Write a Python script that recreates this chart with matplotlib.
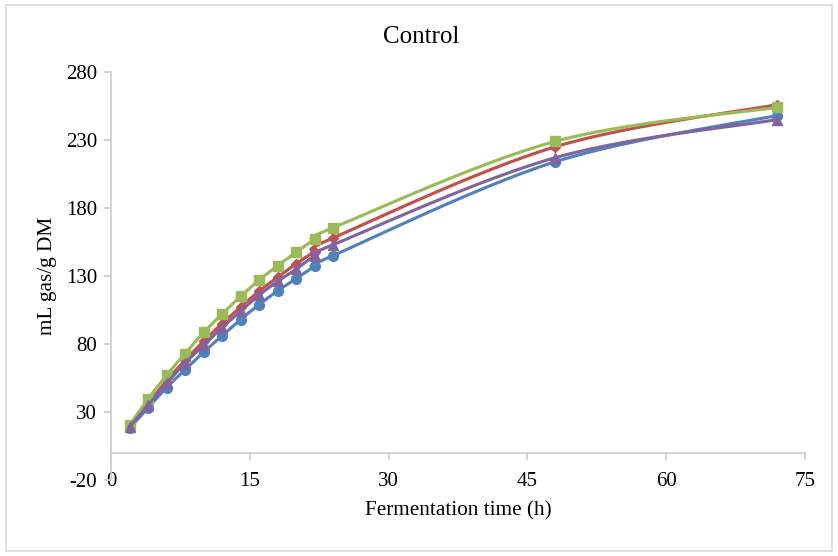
import numpy as np
import matplotlib.pyplot as plt
from matplotlib.patches import Rectangle

# fermentation times (h)
hours = [2, 4, 6, 8, 10, 12, 14, 16, 18, 20, 22, 24, 48, 72]

# gas production (mL gas/g DM)
blue = [18, 33, 48, 61, 74, 86, 98, 109, 119, 128, 137, 145, 214, 248]
red = [19.5, 36, 53, 68, 82, 95, 107, 119, 129, 139, 148, 158, 225, 256]
green = [20.5, 39.5, 57, 73, 88.5, 102, 115, 127, 137.5, 147.5, 157, 165.5, 229, 254]
purple = [19, 35, 51, 66, 79, 92, 104, 116, 126, 135, 145, 153, 217, 245]

series = [(blue, '#4F81BD', 'o', 7),
          (red, '#C0504D', 'D', 5.5),
          (green, '#9BBB59', 's', 7),
          (purple, '#8064A2', '^', 7.5)]


def smooth(x, y, n=30):
    # Excel-style smoothed line: cubic Bezier, control points from neighbours / 6
    p = np.column_stack([x, y]).astype(float)
    out = [p[:1]]
    t = np.linspace(0, 1, n)[1:, None]
    for i in range(len(p) - 1):
        p0 = p[max(i - 1, 0)]
        p1 = p[i]
        p2 = p[i + 1]
        p3 = p[min(i + 2, len(p) - 1)]
        c1 = p1 + (p2 - p0) / 6
        c2 = p2 - (p3 - p1) / 6
        seg = ((1 - t) ** 3) * p1 + 3 * ((1 - t) ** 2) * t * c1 + 3 * (1 - t) * t ** 2 * c2 + t ** 3 * p2
        out.append(seg)
    out = np.vstack(out)
    return out[:, 0], out[:, 1]


plt.rcParams['font.family'] = ['Liberation Serif', 'DejaVu Serif']
plt.rcParams['axes.unicode_minus'] = False

fig = plt.figure(figsize=(8.38, 5.56), dpi=100)
ax = fig.add_axes([0.1325, 0.1367, 0.8281, 0.7338])

for vals, col, mk, ms in series:
    sx, sy = smooth(hours, vals)
    ax.plot(sx, sy, color=col, lw=2.25, solid_capstyle='round')
    ax.plot(hours, vals, linestyle='none', marker=mk, ms=ms, color=col, mec=col)

ax.set_xlim(0, 75)
ax.set_ylim(-20, 280)
ax.set_xticks(np.arange(0, 76, 15))
ax.set_yticks(np.arange(-20, 281, 50))

for s in ['top', 'right']:
    ax.spines[s].set_visible(False)
ax.spines['bottom'].set_position(('data', 0))
for s in ['left', 'bottom']:
    ax.spines[s].set_color('#D0D0D0')
    ax.spines[s].set_linewidth(1.3)

ax.tick_params(axis='both', colors='#D0D0D0', length=5, width=1.3, labelsize=15, labelcolor='black')
ax.tick_params(axis='x', pad=9)
ax.tick_params(axis='y', pad=5)

fig.text(0.503, 0.933, 'Control', ha='center', va='center', fontsize=18)
fig.text(0.547, 0.082, 'Fermentation time (h)', ha='center', va='center', fontsize=15.3)
fig.text(0.057, 0.503, 'mL gas/g DM', ha='center', va='center', rotation=90, fontsize=15.3)

fig.add_artist(Rectangle((0.007, 0.009), 0.986, 0.982, transform=fig.transFigure,
                         fill=False, edgecolor='#D9D9D9', lw=1.2))

fig.savefig('out.png', dpi=100)
